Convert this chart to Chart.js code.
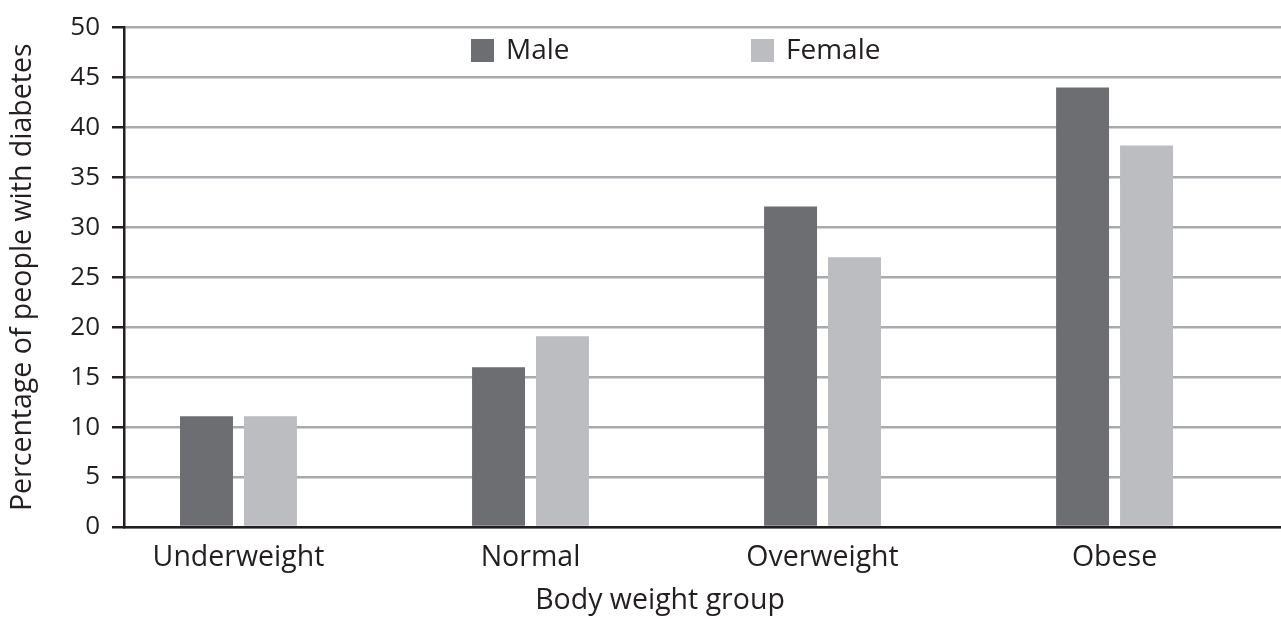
<!DOCTYPE html>
<html>
<head>
<meta charset="utf-8">
<script src="https://cdn.jsdelivr.net/npm/chart.js@4.4.1/dist/chart.umd.min.js"></script>
<style>
  html, body { margin: 0; padding: 0; background: #ffffff; }
  #wrap { width: 1281px; height: 619px; position: relative; }
</style>
</head>
<body>
<div id="wrap"><canvas id="c"></canvas></div>
<script>
const categories = ['Underweight', 'Normal', 'Overweight', 'Obese'];
const maleValues = [11.1, 16.0, 32.1, 44.0];
const femaleValues = [11.1, 19.1, 27.0, 38.2];
const yTicks = [0, 5, 10, 15, 20, 25, 30, 35, 40, 45, 50];
const seriesNames = ['Male', 'Female'];
const xTitle = 'Body weight group';
const yTitle = 'Percentage of people with diabetes';

const FONT = "'Open Sans', 'DejaVu Sans', sans-serif";
const TEXT = '#231f20';

const toPoints = vals => vals.map((v, i) => ({ x: i, y: v }));

const overlayPlugin = {
  id: 'overlayText',
  afterDraw(chart) {
    const ctx = chart.ctx;
    const pos = [{ x: 471, y: 39 }, { x: 751, y: 39 }];
    ctx.save();
    ctx.font = '28px ' + FONT;
    ctx.textBaseline = 'middle';
    ctx.textAlign = 'left';
    chart.data.datasets.forEach((ds, i) => {
      const p = pos[i];
      ctx.fillStyle = ds.backgroundColor;
      ctx.fillRect(p.x, p.y, 23, 23);
      ctx.fillStyle = TEXT;
      ctx.fillText(ds.label, p.x + 35, p.y + 12);
    });
    // x-axis title
    ctx.font = '28.5px ' + FONT;
    ctx.textAlign = 'center';
    ctx.textBaseline = 'alphabetic';
    ctx.fillText(xTitle, 660, 609);
    ctx.restore();
  }
};

new Chart(document.getElementById('c'), {
  type: 'bar',
  data: {
    datasets: [
      { label: seriesNames[0], data: toPoints(maleValues), backgroundColor: '#6d6e71' },
      { label: seriesNames[1], data: toPoints(femaleValues), backgroundColor: '#bcbdc0' }
    ]
  },
  options: {
    responsive: true,
    maintainAspectRatio: false,
    animation: false,
    layout: { padding: { left: 0, right: 0, top: 10, bottom: 0 } },
    datasets: { bar: { categoryPercentage: 0.438, barPercentage: 0.828 } },
    plugins: {
      legend: { display: false },
      tooltip: { enabled: false },
      title: { display: false }
    },
    scales: {
      x: {
        type: 'linear',
        offset: false,
        min: -0.392,
        max: 3.57,
        grid: { display: false, offset: false },
        border: { display: true, color: TEXT, width: 2.5 },
        ticks: {
          stepSize: 1,
          includeBounds: false,
          autoSkip: false,
          maxRotation: 0,
          color: TEXT,
          padding: 6,
          font: { family: FONT, size: 28.5 },
          callback: v => (Number.isInteger(v) && categories[v] !== undefined) ? categories[v] : ''
        },
        afterFit: s => { s.height = 92; }
      },
      y: {
        min: 0,
        max: 50,
        afterBuildTicks: s => { s.ticks = yTicks.map(v => ({ value: v })); },
        grid: { color: '#a9aaad', lineWidth: 2.5, tickColor: TEXT, tickLength: 12, tickWidth: 2.5 },
        border: { display: true, color: TEXT, width: 2.5 },
        ticks: { color: TEXT, padding: 12, font: { family: FONT, size: 26 } },
        title: {
          display: true,
          text: yTitle,
          color: TEXT,
          font: { family: FONT, size: 28.5 },
          padding: { top: 6, bottom: 0 }
        },
        afterFit: s => { s.width = 124; }
      }
    }
  },
  plugins: [overlayPlugin]
});
</script>
</body>
</html>
